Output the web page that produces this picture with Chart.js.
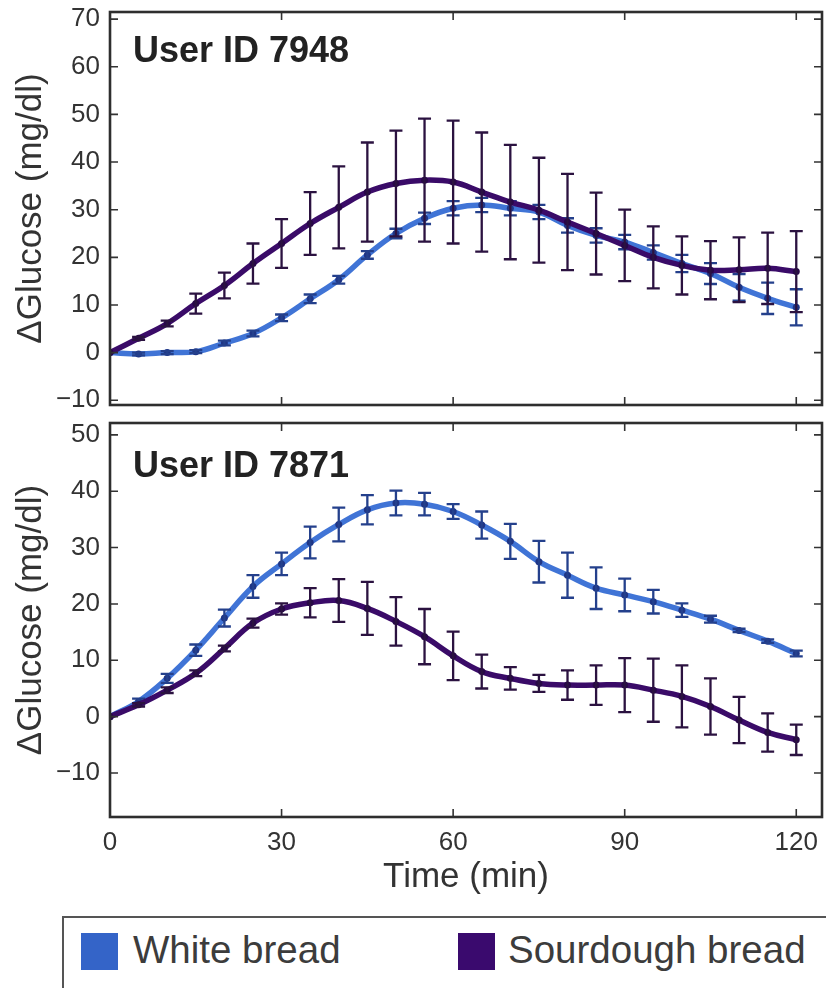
<!DOCTYPE html>
<html>
<head>
<meta charset="utf-8">
<script src="https://cdn.jsdelivr.net/npm/chart.js@4.4.0/dist/chart.umd.min.js"></script>
<style>
  html, body { margin:0; padding:0; background:#fff; width:826px; height:988px; overflow:hidden; }
  canvas { position:absolute; left:0; }
  #cTop { top:0; }
  #cBot { top:410px; }
  .uid { position:absolute; left:133px; font-family:"Liberation Sans", Arial, sans-serif; font-weight:bold; font-size:36px; line-height:36px; color:#222; white-space:nowrap; }
  #legend { position:absolute; left:62px; top:916px; width:800px; height:100px; border:2px solid #555; box-sizing:border-box; }
  .sw { position:absolute; width:37px; height:37px; top:933px; }
  .lt { position:absolute; top:930px; font-family:"Liberation Sans", Arial, sans-serif; font-size:38.5px; line-height:40px; color:#3c3c3c; white-space:nowrap; }
</style>
</head>
<body>
<canvas id="cTop" width="826" height="415"></canvas>
<canvas id="cBot" width="826" height="490"></canvas>
<div class="uid" style="top:32px">User ID 7948</div>
<div class="uid" style="top:447px">User ID 7871</div>
<div id="legend"></div>
<div class="sw" style="left:81px;background:#3464c8"></div>
<div class="lt" style="left:133px">White bread</div>
<div class="sw" style="left:458px;background:#3a0a6e"></div>
<div class="lt" style="left:508px">Sourdough bread</div>
<script>
// ---- data ----
const time = [0,5,10,15,20,25,30,35,40,45,50,55,60,65,70,75,80,85,90,95,100,105,110,115,120];
const xTicks = [0,30,60,90,120];
const yTicksTop = [-10,0,10,20,30,40,50,60,70];
const yTicksBot = [-10,0,10,20,30,40,50];

const seriesNames = ["White bread", "Sourdough bread"];

// User ID 7948
const whiteTop    = [0,-0.3,0,0.2,2,4,7.3,11.3,15.3,20.5,25,28.2,30.3,31,30.3,29.5,26.7,24.6,23.2,21,18.7,16.6,13.7,11.4,9.5];
const whiteTopErr = [0,0.3,0.3,0.3,0.5,0.6,0.7,0.9,0.8,0.8,1,1.2,1.5,1.5,1.5,1.5,1.5,1.5,1.5,1.5,1.8,2.2,2.8,3.3,3.8];
const sourTop     = [0,3,6.1,10.3,14.1,18.7,22.9,27.1,30.5,33.7,35.5,36.2,35.8,33.7,31.6,29.9,27.4,25,22.5,20,18.3,17.3,17.4,17.7,17];
const sourTopErr  = [0,0.3,0.6,2.1,2.7,4.2,5.1,6.6,8.6,10.4,11.1,12.9,12.9,12.5,12,11,10.1,8.6,7.5,6.5,6.1,6.1,6.8,7.5,8.5];

// User ID 7871
const whiteBot    = [0,2.7,6.8,11.8,17.5,23.1,27.1,30.9,34.1,36.7,37.9,37.7,36.4,34,31.1,27.5,25.1,22.8,21.6,20.4,18.9,17.3,15.3,13.4,11.2];
const whiteBotErr = [0,0.5,0.8,1,1.5,2,2,2.8,3,2.6,2.2,2,1.3,2.4,3.1,3.7,4,3.7,2.9,2.1,1.2,0.6,0.3,0.3,0.5];
const sourBot     = [0,2.1,4.7,7.7,12.1,16.6,19.1,20.2,20.6,19.2,16.9,14.2,10.8,8,6.8,5.9,5.6,5.6,5.6,4.7,3.6,1.8,-0.6,-2.8,-4.1];
const sourBotErr  = [0,0.3,0.5,0.5,0.5,0.8,1,2.6,3.8,4.7,4.3,4.9,4.3,3,2,1.5,2.6,3.5,4.8,5.6,5.5,5,4.1,3.4,2.7];

// ---- styles ----
const WHITE_LINE = '#4074d6', WHITE_PT = '#1f3585', WHITE_ERR = '#24408c';
const SOUR_LINE = '#3a0b68', SOUR_PT = '#280848', SOUR_ERR = '#2b1240';
const TICK_COLOR = '#333';
const FONT = '"Liberation Sans", Arial, sans-serif';

const pts = vals => time.map((t, i) => ({x: t, y: vals[i]}));

const errorBars = {
  id: 'errorBars',
  afterDatasetDraw(chart, args) {
    const ds = chart.data.datasets[args.index];
    if (!ds.errors) return;
    const ys = chart.scales.y, ctx = chart.ctx, a = chart.chartArea;
    ctx.save();
    ctx.beginPath(); ctx.rect(a.left, a.top, a.right - a.left, a.bottom - a.top); ctx.clip();
    ctx.strokeStyle = ds.errorColor; ctx.lineWidth = 2.3;
    args.meta.data.forEach((p, i) => {
      const e = ds.errors[i];
      if (!e) return;
      const v = ds.data[i].y;
      const y1 = ys.getPixelForValue(v + e), y2 = ys.getPixelForValue(v - e);
      ctx.beginPath();
      ctx.moveTo(p.x, y1); ctx.lineTo(p.x, y2);
      ctx.moveTo(p.x - 6.5, y1); ctx.lineTo(p.x + 6.5, y1);
      ctx.moveTo(p.x - 6.5, y2); ctx.lineTo(p.x + 6.5, y2);
      ctx.stroke();
    });
    ctx.restore();
  }
};

const frameTicks = {
  id: 'frameTicks',
  afterDatasetsDraw(chart) {
    const ctx = chart.ctx, a = chart.chartArea, xs = chart.scales.x, ys = chart.scales.y;
    ctx.save();
    ctx.strokeStyle = '#333'; ctx.lineWidth = 1.6;
    ctx.beginPath();
    xs.ticks.forEach(t => {
      const x = xs.getPixelForValue(t.value);
      ctx.moveTo(x, a.bottom); ctx.lineTo(x, a.bottom - 8);
      ctx.moveTo(x, a.top); ctx.lineTo(x, a.top + 8);
    });
    ys.ticks.forEach(t => {
      const y = ys.getPixelForValue(t.value);
      ctx.moveTo(a.left, y); ctx.lineTo(a.left + 8, y);
      ctx.moveTo(a.right, y); ctx.lineTo(a.right - 8, y);
    });
    ctx.stroke();
    ctx.lineWidth = 2.6; ctx.strokeStyle = '#2e2e2e';
    ctx.strokeRect(a.left, a.top, a.right - a.left, a.bottom - a.top);
    ctx.restore();
  }
};

function makeChart(id, white, whiteErr, sour, sourErr, yMin, yMax, yTicks, showX, padTop, xHeight) {
  return new Chart(document.getElementById(id), {
    type: 'line',
    data: {
      datasets: [
        { label: seriesNames[0], data: pts(white), errors: whiteErr, errorColor: WHITE_ERR,
          borderColor: WHITE_LINE, borderWidth: 5.5, tension: 0.4,
          pointRadius: 3.5, pointBackgroundColor: WHITE_PT, pointBorderWidth: 0, order: 2 },
        { label: seriesNames[1], data: pts(sour), errors: sourErr, errorColor: SOUR_ERR,
          borderColor: SOUR_LINE, borderWidth: 5.5, tension: 0.4,
          pointRadius: 3.5, pointBackgroundColor: SOUR_PT, pointBorderWidth: 0, order: 1 }
      ]
    },
    options: {
      responsive: false, animation: false, events: [],
      layout: { padding: { top: padTop, right: 4, left: 0, bottom: 0 } },
      plugins: { legend: { display: false }, tooltip: { enabled: false } },
      scales: {
        x: {
          type: 'linear', min: 0, max: 124.5,
          afterBuildTicks: s => { s.ticks = xTicks.map(v => ({value: v})); },
          afterFit: s => { s.height = xHeight; s.paddingLeft = 0; s.paddingRight = 0; },
          grid: { display: false, drawTicks: false }, border: { display: false },
          ticks: { display: showX, padding: 10, color: TICK_COLOR, font: { family: FONT, size: 26 }, maxRotation: 0 },
          title: { display: showX, text: 'Time (min)', color: '#333', font: { family: FONT, size: 35 }, padding: { top: 0, bottom: 2 } }
        },
        y: {
          min: yMin, max: yMax,
          afterBuildTicks: s => { s.ticks = yTicks.map(v => ({value: v})); },
          afterFit: s => { s.width = 110; s.paddingTop = 0; s.paddingBottom = 0; },
          grid: { display: false, drawTicks: false }, border: { display: false },
          ticks: { padding: 10, color: TICK_COLOR, font: { family: FONT, size: 26 },
                   callback: v => v < 0 ? '\u2212' + Math.abs(v) : String(v) },
          title: { display: true, text: '\u0394Glucose (mg/dl)', color: '#333', font: { family: FONT, size: 35 }, padding: { top: 10, bottom: 0 } }
        }
      }
    },
    plugins: [errorBars, frameTicks]
  });
}

makeChart('cTop', whiteTop, whiteTopErr, sourTop, sourTopErr, -11, 71.5, yTicksTop, false, 12, 10);
makeChart('cBot', whiteBot, whiteBotErr, sourBot, sourBotErr, -17.8, 52.1, yTicksBot, true, 13, 83);
</script>
</body>
</html>
